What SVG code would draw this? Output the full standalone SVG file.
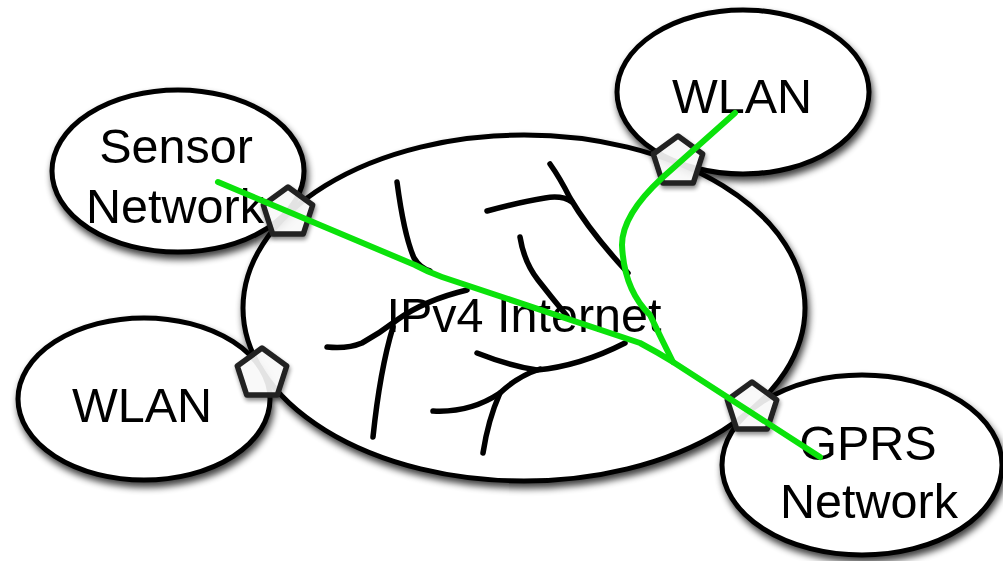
<svg xmlns="http://www.w3.org/2000/svg" width="1003" height="561" viewBox="0 0 1003 561">
<style>
.cloud{fill:#fff;stroke:#000;stroke-width:5;filter:url(#sh)}
.lbl{font-family:"Liberation Sans",Arial,Helvetica,sans-serif;font-size:48.5px;fill:#000;text-anchor:middle}
.br{fill:none;stroke:#000;stroke-width:5.5;stroke-linecap:round;stroke-linejoin:round}
.gw{fill:#fff;fill-opacity:0.86;stroke:#222;stroke-width:5.5;stroke-linejoin:round;filter:url(#sh2)}
.route{fill:none;stroke:#0be20b;stroke-width:6;stroke-linecap:round;stroke-linejoin:round}
</style>
<defs>
<filter id="sh" x="-20%" y="-20%" width="140%" height="150%">
<feGaussianBlur in="SourceAlpha" stdDeviation="3.5"/>
<feOffset dx="2" dy="5" result="b"/>
<feComponentTransfer><feFuncA type="linear" slope="0.75"/></feComponentTransfer>
<feMerge><feMergeNode/><feMergeNode in="SourceGraphic"/></feMerge>
</filter>
<filter id="sh2" x="-40%" y="-40%" width="180%" height="190%">
<feGaussianBlur in="SourceAlpha" stdDeviation="2"/>
<feOffset dx="1" dy="3"/>
<feComponentTransfer><feFuncA type="linear" slope="0.45"/></feComponentTransfer>
<feMerge><feMergeNode/><feMergeNode in="SourceGraphic"/></feMerge>
</filter>
<polygon id="pent" points="0,-26 24.7,-8 15.3,21 -15.3,21 -24.7,-8"/>
</defs>
<rect width="1003" height="561" fill="#fff"/>

<g id="internet">
<ellipse class="cloud" cx="524" cy="308" rx="281" ry="173"/>
<g id="branches">
<path class="br" d="M397,182 Q404,235 414,258 Q420,268 430,271"/>
<path class="br" d="M550,164 Q560,178 570,198 Q590,232 628,273"/>
<path class="br" d="M487,211 Q520,202 545,198 Q562,195 572,202"/>
<path class="br" d="M520,237 Q524,262 538,280 Q552,298 567,316"/>
<path class="br" d="M327,347 Q348,349 362,343 Q380,333 397,320 Q425,300 467,290"/>
<path class="br" d="M393,327 Q380,370 373,437"/>
<path class="br" d="M477,353 Q510,366 537,370 Q580,366 625,343"/>
<path class="br" d="M433,411 Q470,413 500,393 Q518,376 540,369"/>
<path class="br" d="M500,393 Q488,420 483,453"/>
</g>
<text class="lbl" x="524" y="332">IPv4 Internet</text>
</g>

<g id="sensor">
<ellipse class="cloud" cx="178" cy="171" rx="126" ry="81"/>
<text class="lbl" x="176" y="163">Sensor</text>
<text class="lbl" x="175" y="223">Network</text>
</g>

<g id="wlan-top">
<ellipse class="cloud" cx="743" cy="92" rx="126" ry="82"/>
<text class="lbl" x="742" y="113">WLAN</text>
</g>

<g id="wlan-left">
<ellipse class="cloud" cx="144" cy="399" rx="126" ry="81"/>
<text class="lbl" x="142" y="422">WLAN</text>
</g>

<g id="gprs">
<ellipse class="cloud" cx="862" cy="465" rx="140" ry="90"/>
<text class="lbl" x="868" y="460">GPRS</text>
<text class="lbl" x="869" y="518">Network</text>
</g>

<g id="gateways">
<use href="#pent" class="gw" x="288" y="213"/>
<use href="#pent" class="gw" x="262" y="374"/>
<use href="#pent" class="gw" x="678" y="162"/>
<use href="#pent" class="gw" x="752" y="408"/>
</g>

<g id="connectors">
<path class="route" d="M218,182 L415,265 Q428,272 442,277 L640,343 Q657,352 673,362 L820,457"/>
<path class="route" d="M735,113 L662,178 Q622,215 622,245 Q624,290 650,315 Q662,340 673,362"/>
</g>
</svg>
